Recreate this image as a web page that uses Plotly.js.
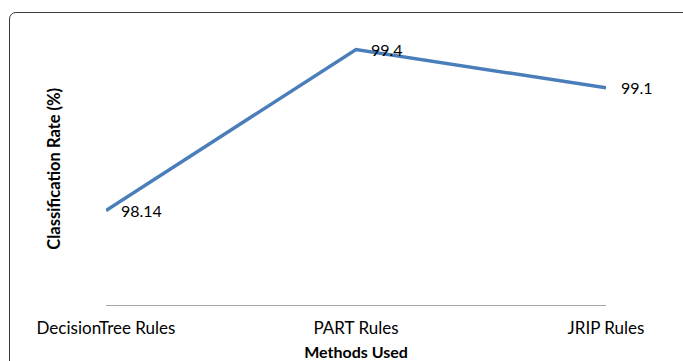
<!DOCTYPE html>
<html>
<head>
<meta charset="utf-8">
<script src="https://cdn.plot.ly/plotly-3.0.1.min.js"></script>
<style>
  html, body { margin: 0; padding: 0; background: #fff; overflow: hidden; }
  #wrap { position: relative; width: 683px; height: 361px; }
  #chart { position: absolute; left: 0; top: 0; width: 683px; height: 361px; }
  #frame {
    position: absolute; left: 9px; top: 12px; width: 700px; height: 380px;
    border: 1px solid #3a3a3a; border-radius: 7px; pointer-events: none;
  }
</style>
</head>
<body>
<div id="wrap">
  <div id="chart"></div>
  <div id="frame"></div>
</div>
<script>
// Classification rate achieved by each rule-learning method
const methods = ['DecisionTree Rules', 'PART Rules', 'JRIP Rules'];
const rates = [98.14, 99.4, 99.1];
const rateLabels = ['98.14', '99.4', '99.1'];

const FONT = 'Lato, "Open Sans", sans-serif';

const trace = {
  type: 'scatter',
  mode: 'lines',
  x: methods,
  y: rates,
  line: { color: '#4A7EBB', width: 3.5 },
  hoverinfo: 'x+y',
  cliponaxis: false
};

// value labels sit just to the right of each point
const labels = methods.map((m, i) => ({
  x: m, y: rates[i], xref: 'x', yref: 'y',
  text: rateLabels[i], showarrow: false,
  xanchor: 'left', yanchor: 'middle', xshift: 13,
  font: { family: FONT, size: 16, color: '#000' }
}));

// vertical axis title, placed left of the plot area
labels.push({
  xref: 'paper', yref: 'paper', x: -0.104, y: 0.485,
  xanchor: 'center', yanchor: 'middle', textangle: -90,
  text: '<b>Classification Rate (%)</b>', showarrow: false,
  font: { family: FONT, size: 16.5, color: '#000' }
});

const layout = {
  width: 683, height: 361,
  margin: { l: 106, r: 77, t: 24, b: 56 },
  paper_bgcolor: 'rgba(0,0,0,0)',
  plot_bgcolor: 'rgba(0,0,0,0)',
  showlegend: false,
  font: { family: FONT, color: '#000' },
  xaxis: {
    type: 'category',
    categoryarray: methods,
    range: [0, 2],
    showline: true, linecolor: '#a6a6a6', linewidth: 1.3,
    showgrid: false, zeroline: false, ticks: '',
    tickfont: { family: FONT, size: 17, color: '#000' },
    ticklabelstandoff: 7,
    title: { text: '<b>Methods Used</b>', font: { family: FONT, size: 16, color: '#000' }, standoff: 11 }
  },
  yaxis: {
    range: [97.4, 99.6],
    showline: false, showgrid: false, zeroline: false,
    showticklabels: false, ticks: ''
  },
  annotations: labels
};

Plotly.newPlot('chart', [trace], layout, { staticPlot: true });
</script>
</body>
</html>
